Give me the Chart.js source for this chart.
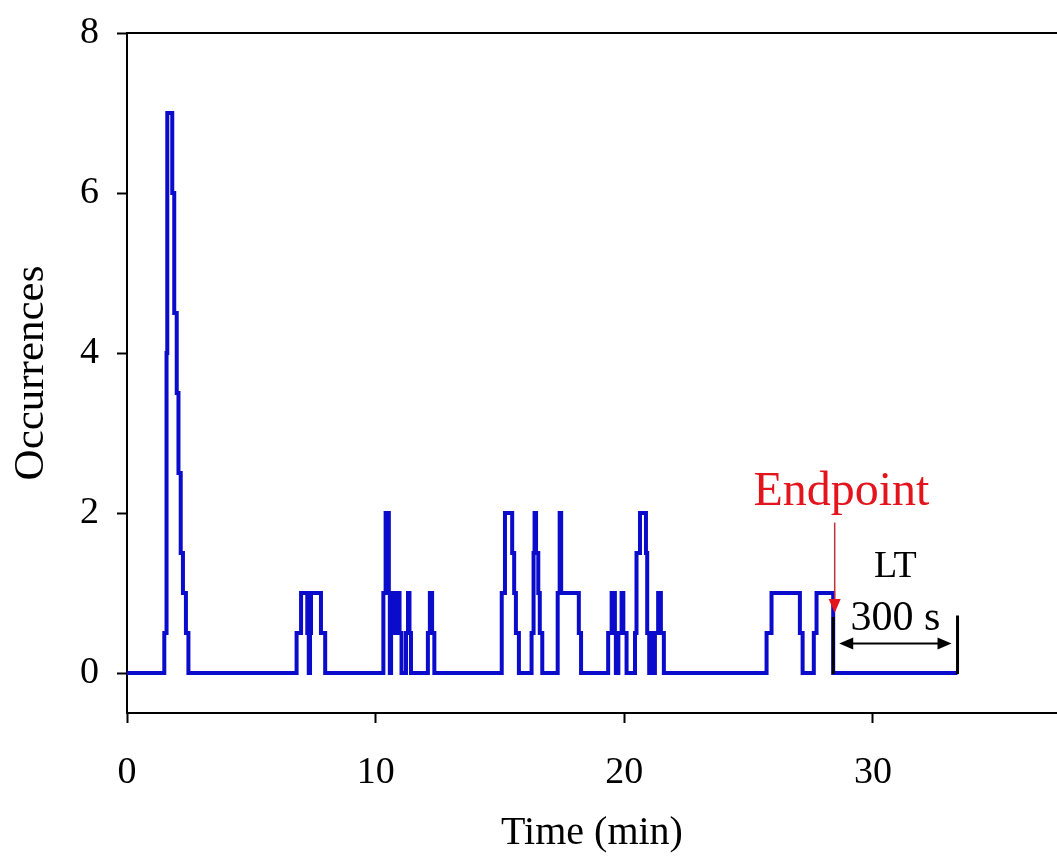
<!DOCTYPE html>
<html>
<head>
<meta charset="utf-8">
<title>Occurrences</title>
<script src="https://cdn.jsdelivr.net/npm/chart.js@4.4.1/dist/chart.umd.min.js"></script>
<style>
  html, body { margin: 0; padding: 0; background: #fff; }
  #wrap { width: 1057px; height: 860px; }
</style>
</head>
<body>
<div id="wrap"><canvas id="occ" width="1057" height="860"></canvas></div>
<script>
// step trace: each count holds from its time until the next time
const stepTimes = [
  0, 1.50, 1.59, 1.62, 1.82, 1.90, 2.00, 2.07, 2.16, 2.25, 2.37, 2.47,
  6.82, 7.00, 7.25, 7.31, 7.36, 7.40, 7.80, 7.97,
  10.31, 10.40, 10.53, 10.57, 10.62, 10.66, 10.78, 10.82, 10.96, 11.04,
  11.22, 11.30, 11.36, 11.42, 12.10, 12.18, 12.27, 12.36,
  15.07, 15.20, 15.49, 15.57, 15.64, 15.76,
  16.27, 16.35, 16.39, 16.45, 16.54, 16.60, 16.70,
  17.32, 17.40, 17.46, 18.17, 18.26,
  19.35, 19.49, 19.62, 19.66, 19.76, 19.89, 19.96, 20.09,
  20.43, 20.49, 20.63, 20.87, 20.92, 21.00, 21.07, 21.16, 21.23, 21.36, 21.47, 21.59,
  25.72, 25.92, 27.06, 27.17, 27.62, 27.73, 28.40, 33.40
];
const stepCounts = [
  0, 0.5, 4, 7, 6, 4.5, 3.5, 2.5, 1.5, 1, 0.5, 0,
  0.5, 1, 0.5, 0, 0.5, 1, 0.5, 0,
  1, 2, 1, 0, 0.5, 1, 0.5, 1, 0.5, 0,
  0.5, 1, 0.5, 0, 0.5, 1, 0.5, 0,
  1, 2, 1.5, 1, 0.5, 0,
  0.5, 1.5, 2, 1.5, 1, 0.5, 0,
  1, 2, 1, 0.5, 0,
  0.5, 1, 0.5, 0, 0.5, 1, 0.5, 0,
  0.5, 1.5, 2, 1.5, 0.5, 0, 0.5, 0, 0.5, 1, 0.5, 0,
  0.5, 1, 0.5, 0, 0.5, 1, 0, 0
];
const xTicks = [0, 10, 20, 30];
const yTicks = [0, 2, 4, 6, 8];

const endpointMin = 28.4;   // end of the last activity
const ltSeconds = 300;      // lag time after the endpoint

const serif = "'Liberation Serif', 'Times New Roman', serif";

const points = stepTimes.map((t, i) => ({ x: t, y: stepCounts[i] }));

// frame top edge plus the endpoint / LT markings
const marks = {
  id: 'marks',
  afterDatasetsDraw(chart) {
    const { ctx, chartArea, scales: { x, y } } = chart;
    ctx.save();
    ctx.strokeStyle = '#000';
    ctx.lineWidth = 2;
    ctx.beginPath();
    ctx.moveTo(chartArea.left - 1, chartArea.top);
    ctx.lineTo(chartArea.right, chartArea.top);
    ctx.stroke();

    const xs = x.getPixelForValue(endpointMin);
    const xe = x.getPixelForValue(endpointMin + ltSeconds / 60);
    const y0 = y.getPixelForValue(0);

    // bracket ends
    ctx.lineWidth = 3;
    ctx.beginPath();
    ctx.moveTo(xs, y0 + 1);
    ctx.lineTo(xs, y.getPixelForValue(0.7));
    ctx.moveTo(xe, y0 + 1);
    ctx.lineTo(xe, y.getPixelForValue(0.72));
    ctx.stroke();

    // double arrow
    const ya = y.getPixelForValue(0.37);
    const a1 = xs + 6, a2 = xe - 6;
    ctx.lineWidth = 2;
    ctx.beginPath();
    ctx.moveTo(a1 + 10, ya);
    ctx.lineTo(a2 - 10, ya);
    ctx.stroke();
    ctx.fillStyle = '#000';
    ctx.beginPath();
    ctx.moveTo(a1, ya);
    ctx.lineTo(a1 + 14, ya - 6);
    ctx.lineTo(a1 + 14, ya + 6);
    ctx.closePath();
    ctx.moveTo(a2, ya);
    ctx.lineTo(a2 - 14, ya - 6);
    ctx.lineTo(a2 - 14, ya + 6);
    ctx.closePath();
    ctx.fill();

    ctx.textAlign = 'center';
    ctx.textBaseline = 'middle';
    ctx.font = '42px ' + serif;
    ctx.fillText(ltSeconds + ' s', (xs + xe) / 2, y.getPixelForValue(0.68));
    ctx.font = '38px ' + serif;
    ctx.fillText('LT', (xs + xe) / 2, y.getPixelForValue(1.33));

    // endpoint pointer
    const red = '#e3141c';
    const xr = x.getPixelForValue(endpointMin + 0.06);
    ctx.fillStyle = red;
    ctx.font = '48px ' + serif;
    ctx.fillText('Endpoint', x.getPixelForValue(endpointMin + 0.33), y.getPixelForValue(2.26));
    ctx.strokeStyle = '#c0303a';
    ctx.lineWidth = 1.5;
    ctx.beginPath();
    ctx.moveTo(xr, y.getPixelForValue(1.88));
    ctx.lineTo(xr, y.getPixelForValue(0.9));
    ctx.stroke();
    const tip = y.getPixelForValue(0.75);
    ctx.beginPath();
    ctx.moveTo(xr, tip);
    ctx.lineTo(xr - 6, tip - 14);
    ctx.lineTo(xr + 6, tip - 14);
    ctx.closePath();
    ctx.fill();
    ctx.restore();
  }
};

new Chart(document.getElementById('occ'), {
  type: 'line',
  data: {
    datasets: [{
      data: points,
      stepped: 'before',
      borderColor: '#0b0bcc',
      borderWidth: 4,
      pointRadius: 0,
      fill: false,
      tension: 0
    }]
  },
  options: {
    responsive: false,
    animation: false,
    layout: { padding: { top: 33, right: 0, left: 0, bottom: 0 } },
    plugins: {
      legend: { display: false },
      tooltip: { enabled: false }
    },
    scales: {
      x: {
        type: 'linear',
        min: 0,
        max: 37.4,
        afterBuildTicks: s => { s.ticks = xTicks.map(v => ({ value: v })); },
        afterFit: s => { s.height = 147; s.paddingLeft = 0; s.paddingRight = 0; },
        border: { display: true, color: '#000', width: 2 },
        grid: { drawOnChartArea: false, tickLength: 10, tickColor: '#000', tickWidth: 2 },
        ticks: { color: '#000', font: { family: serif, size: 38 }, padding: 27, maxRotation: 0 },
        title: { display: true, text: 'Time (min)', color: '#000', font: { family: serif, size: 40 }, padding: { top: 0, bottom: 3 } }
      },
      y: {
        min: -0.5,
        max: 8,
        afterBuildTicks: s => { s.ticks = yTicks.map(v => ({ value: v })); },
        afterFit: s => { s.width = 127; s.paddingTop = 0; s.paddingBottom = 0; },
        border: { display: true, color: '#000', width: 2 },
        grid: { drawOnChartArea: false, tickLength: 10, tickColor: '#000', tickWidth: 2 },
        ticks: { color: '#000', font: { family: serif, size: 38 }, padding: 18 },
        title: { display: true, text: 'Occurrences', color: '#000', font: { family: serif, size: 43 }, padding: { top: 6, bottom: 0 } }
      }
    }
  },
  plugins: [marks]
});
</script>
</body>
</html>
